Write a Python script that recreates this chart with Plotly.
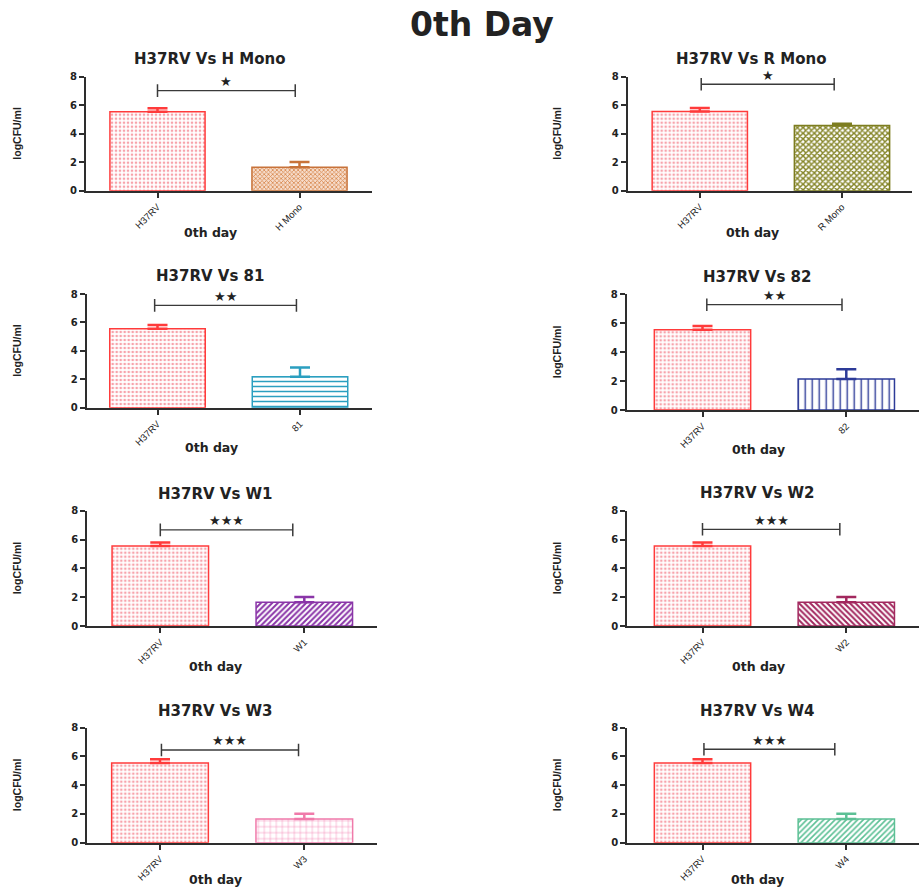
import plotly.graph_objects as go

# ---------------- data ----------------
panel_titles = ["H37RV Vs H Mono", "H37RV Vs R Mono", "H37RV Vs 81", "H37RV Vs 82",
                "H37RV Vs W1", "H37RV Vs W2", "H37RV Vs W3", "H37RV Vs W4"]
ref_name = "H37RV"
test_names = ["H Mono", "R Mono", "81", "82", "W1", "W2", "W3", "W4"]
ref_values = [5.54, 5.55, 5.56, 5.55, 5.55, 5.55, 5.55, 5.55]
ref_errors = [0.24, 0.25, 0.26, 0.25, 0.25, 0.25, 0.25, 0.25]
test_values = [1.64, 4.57, 2.17, 2.14, 1.65, 1.65, 1.65, 1.65]
test_errors = [0.38, 0.13, 0.66, 0.67, 0.36, 0.37, 0.37, 0.37]
sig_labels = ["★", "★", "★★", "★★", "★★★", "★★★", "★★★", "★★★"]
sig_heights = [7.02, 7.47, 7.2, 7.28, 6.67, 6.71, 6.45, 6.5]
sig_start = [0.0, 0.01, -0.02, 0.03, 0.0, 0.0, 0.01, 0.01]
sig_end = [0.97, 0.945, 0.975, 0.97, 0.92, 0.955, 0.96, 0.92]
y_ticks = [0, 2, 4, 6, 8]
x_axis_title = "0th day"
y_axis_title = "logCFU/ml"
main_title = "0th Day"

# ---------------- styles / layout ----------------
W, H = 921, 888
# (x_left, x_right, y_top(=8), y_bottom(=0), center0, center1) in pixels
geom = [
    (86.0, 372.0, 76.7, 190.7, 157.5, 299.5),
    (627.7, 911.7, 76.7, 190.7, 699.8, 842.0),
    (86.7, 371.7, 294.0, 407.7, 157.5, 300.0),
    (626.7, 919.3, 294.3, 410.0, 702.5, 846.3),
    (87.3, 376.7, 510.7, 626.0, 160.3, 304.3),
    (627.3, 919.3, 510.7, 626.0, 702.5, 846.3),
    (87.3, 376.7, 727.7, 842.7, 160.0, 304.3),
    (627.3, 919.3, 727.7, 842.7, 702.5, 846.3),
]
title_pos = [(210, 59), (751, 59), (210, 276.5), (757, 277),
             (215, 494), (757, 493.5), (215, 710.5), (757, 710.5)]
xtitle_pos = [(210, 232.7), (752, 232.7), (211.7, 447.7), (758, 449.3),
              (215.8, 666.7), (758, 666.7), (215.8, 879.5), (757, 879.5)]
ylabel_x = [17, 557]

ref_style = dict(line="#ff3b3b", fg="#f7a3ab", bg="#ffffff", shape=".", size=4, sol=0.35)
test_styles = [
    dict(line="#c8733a", fg="#d7874d", bg="#f6dccb", shape="x", size=3, sol=0.45),
    dict(line="#7d7d1f", fg="#858528", bg="#ffffff", shape="x", size=4, sol=0.6),
    dict(line="#2b9fc0", fg="#2b9fc0", bg="#ffffff", shape="-", size=5, sol=0.3),
    dict(line="#2d3b98", fg="#2d3b98", bg="#ffffff", shape="|", size=7, sol=0.2),
    dict(line="#8a35a8", fg="#8a35a8", bg="#ffffff", shape="/", size=4, sol=0.5),
    dict(line="#a2285e", fg="#a2285e", bg="#ffffff", shape="\\", size=4, sol=0.5),
    dict(line="#f07aaa", fg="#f07aaa", bg="#ffffff", shape="+", size=6, sol=0.15),
    dict(line="#5cc095", fg="#5cc095", bg="#ffffff", shape="/", size=4, sol=0.4),
]
axis_color = "#2e2e2e"
FONT = "DejaVu Sans"

def px2x(px):
    return px / W

def px2y(py):
    return 1 - py / H

fig = go.Figure()
annotations = []
layout_axes = {}

for i in range(8):
    xl, xr, yt, yb, c0, c1 = geom[i]
    s = c1 - c0
    xrange = [(xl - c0) / s, (xr - c0) / s]
    xa = "xaxis" if i == 0 else f"xaxis{i+1}"
    ya = "yaxis" if i == 0 else f"yaxis{i+1}"
    xref = "x" if i == 0 else f"x{i+1}"
    yref = "y" if i == 0 else f"y{i+1}"

    layout_axes[xa] = dict(
        domain=[px2x(xl), px2x(xr)], anchor=yref, range=xrange, automargin=False,
        tickmode="array", tickvals=[0, 1], ticktext=[ref_name, test_names[i]],
        tickangle=-45, ticks="outside", ticklen=5, tickwidth=2, tickcolor=axis_color,
        showline=True, linecolor=axis_color, linewidth=2, showgrid=False, zeroline=False,
        tickfont=dict(family="Liberation Sans", size=9.5, color="#222"),
        fixedrange=True,
    )
    layout_axes[ya] = dict(
        domain=[px2y(yb), px2y(yt)], anchor=xref, range=[0, 8], automargin=False,
        tickmode="array", tickvals=y_ticks,
        ticks="outside", ticklen=5, tickwidth=2, tickcolor=axis_color,
        showline=True, linecolor=axis_color, linewidth=2, showgrid=False, zeroline=False,
        tickfont=dict(family=FONT, size=10, color="#222", weight="bold"),
        fixedrange=True,
    )

    for k, (xv, val, err, st) in enumerate([(0, ref_values[i], ref_errors[i], ref_style),
                                            (1, test_values[i], test_errors[i], test_styles[i])]):
        fig.add_trace(go.Bar(
            x=[xv], y=[val], width=0.67, xaxis=xref, yaxis=yref,
            marker=dict(color=st["bg"], line=dict(color=st["line"], width=1.5),
                        pattern=dict(shape=st["shape"], fgcolor=st["fg"], bgcolor=st["bg"],
                                     size=st["size"], solidity=st["sol"], fillmode="replace")),
            error_y=dict(type="data", symmetric=False, array=[err], arrayminus=[0],
                         color=st["line"], thickness=2.5, width=10),
            showlegend=False, hoverinfo="skip",
        ))

    # significance bracket
    fig.add_trace(go.Scatter(
        x=[sig_start[i], sig_end[i]], y=[sig_heights[i], sig_heights[i]],
        xaxis=xref, yaxis=yref, mode="lines+markers",
        line=dict(color="#3a3a3a", width=1.3),
        marker=dict(symbol="line-ns-open", size=9, line=dict(color="#3a3a3a", width=1.5)),
        showlegend=False, hoverinfo="skip",
    ))
    annotations.append(dict(
        x=(sig_start[i] + sig_end[i]) / 2, y=sig_heights[i], xref=xref, yref=yref,
        text=sig_labels[i], showarrow=False, yshift=9, yanchor="middle",
        font=dict(family=FONT, size=13, color="#222"),
    ))

    # subplot title
    tx, ty = title_pos[i]
    annotations.append(dict(
        x=px2x(tx), y=px2y(ty), xref="paper", yref="paper", text=panel_titles[i],
        showarrow=False, xanchor="center", yanchor="middle",
        font=dict(family=FONT, size=15, color="#222", weight="bold"),
    ))
    # x-axis title
    ax_, ay_ = xtitle_pos[i]
    annotations.append(dict(
        x=px2x(ax_), y=px2y(ay_), xref="paper", yref="paper", text=x_axis_title,
        showarrow=False, xanchor="center", yanchor="middle",
        font=dict(family=FONT, size=12.5, color="#222", weight="bold"),
    ))
    # y-axis title
    annotations.append(dict(
        x=px2x(ylabel_x[i % 2]), y=px2y((yt + yb) / 2), xref="paper", yref="paper",
        text=y_axis_title, showarrow=False, textangle=-90,
        xanchor="center", yanchor="middle",
        font=dict(family="Liberation Sans", size=10.5, color="#222", weight="bold"),
    ))

annotations.append(dict(
    x=px2x(482), y=px2y(25), xref="paper", yref="paper", text=main_title,
    showarrow=False, xanchor="center", yanchor="middle",
    font=dict(family=FONT, size=33, color="#222", weight="bold"),
))

fig.update_layout(
    width=W, height=H, margin=dict(l=0, r=0, t=0, b=0, autoexpand=False),
    paper_bgcolor="white", plot_bgcolor="white",
    barmode="overlay", annotations=annotations, showlegend=False,
    **layout_axes,
)

fig.write_html("out.html", config={"displayModeBar": False})
